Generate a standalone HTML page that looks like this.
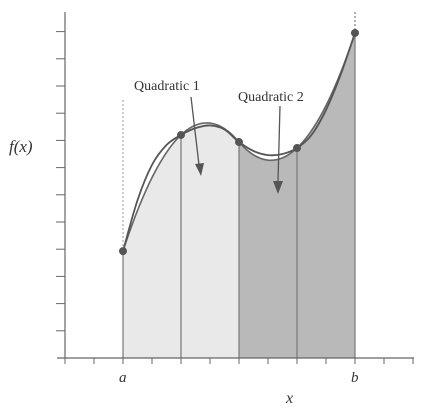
<!DOCTYPE html>
<html><head><meta charset="utf-8"><style>
body{margin:0;background:#fff}
svg text{font-family:"Liberation Serif",serif;fill:#333}
</style></head><body>
<svg id="chart" width="431" height="411" viewBox="0 0 431 411" xmlns="http://www.w3.org/2000/svg">
<g id="fills"></g>
<g id="grid"></g>
<g id="axes"></g>
<g id="curves"></g>
<g id="pts"></g>
<text x="134" y="90" font-size="14">Quadratic 1</text>
<text x="238" y="101" font-size="14">Quadratic 2</text>
<line x1="191" y1="97" x2="199" y2="165" stroke="#555" stroke-width="1.3"/>
<path d="M195,164 L204,163 L201,176 Z" fill="#555"/>
<line x1="280" y1="106" x2="278" y2="182" stroke="#555" stroke-width="1.3"/>
<path d="M273,181 L283,181 L278,194 Z" fill="#555"/>
<text x="9" y="152" font-size="17" font-style="italic">f(x)</text>
<text x="119" y="382" font-size="15" font-style="italic">a</text>
<text x="351" y="382" font-size="15" font-style="italic">b</text>
<text x="286" y="403" font-size="16" font-style="italic">x</text>
</svg>
<script>
// data (x in node units 0..4, y in value units)
const nodeX = [0, 1, 2, 3, 4];
const nodeY = [3.93, 8.2, 7.94, 7.72, 11.95];
const trueX = [0, 0.25, 0.5, 0.75, 1, 1.25, 1.5, 1.75, 2, 2.25, 2.5, 2.75, 3, 3.25, 3.5, 3.75, 4];
const trueY = [3.93, 5.8, 7.1, 7.83, 8.2, 8.45, 8.55, 8.4, 7.94, 7.61, 7.46, 7.5, 7.72, 8.2, 9.12, 10.4, 11.95];
const yTicks = [1,2,3,4,5,6,7,8,9,10,11,12];
const xTicks = [-1,-0.5,0,0.5,1,1.5,2,2.5,3,3.5,4,4.5,5];

const sx = v => 123 + 58 * v;
const sy = v => 358 - 27.2 * v;
const NS = "http://www.w3.org/2000/svg";
function mk(tag, parent, attrs){const e=document.createElementNS(NS,tag);for(const k in attrs)e.setAttribute(k,attrs[k]);document.getElementById(parent).appendChild(e);return e;}

function quad(i0){
  const [x0,x1,x2]=[nodeX[i0],nodeX[i0+1],nodeX[i0+2]],[y0,y1,y2]=[nodeY[i0],nodeY[i0+1],nodeY[i0+2]];
  return x=>y0*(x-x1)*(x-x2)/((x0-x1)*(x0-x2))+y1*(x-x0)*(x-x2)/((x1-x0)*(x1-x2))+y2*(x-x0)*(x-x1)/((x2-x0)*(x2-x1));
}
const q1=quad(0), q2=quad(2);
function qPath(f,a,b){let d="";for(let k=0;k<=40;k++){const x=a+(b-a)*k/40;d+=(k?"L":"M")+sx(x).toFixed(1)+","+sy(f(x)).toFixed(1);}return d;}
function smooth(xs,ys){
  const P=xs.map((x,i)=>[sx(x),sy(ys[i])]);let d="M"+P[0][0]+","+P[0][1];
  for(let i=0;i<P.length-1;i++){const p0=P[Math.max(0,i-1)],p1=P[i],p2=P[i+1],p3=P[Math.min(P.length-1,i+2)];
    d+=` C${p1[0]+(p2[0]-p0[0])/6},${p1[1]+(p2[1]-p0[1])/6} ${p2[0]-(p3[0]-p1[0])/6},${p2[1]-(p3[1]-p1[1])/6} ${p2[0]},${p2[1]}`;}
  return d;
}
let f1=mk("path","fills",{d:qPath(q1,0,2)+`L${sx(2)},${sy(0)}L${sx(0)},${sy(0)}Z`,fill:"#e9e9e9"});


let f2=mk("path","fills",{d:qPath(q2,2,4)+`L${sx(4)},${sy(0)}L${sx(2)},${sy(0)}Z`,fill:"#b9b9b9"});


nodeX.forEach((x,i)=>{const l=mk("line","grid",{x1:sx(x),x2:sx(x),y1:sy(nodeY[i]),y2:sy(0),stroke:"#777","stroke-width":1.2});
  
  });
let da=mk("line","grid",{x1:sx(0),x2:sx(0),y1:100,y2:sy(nodeY[0]),stroke:"#999","stroke-dasharray":"2,2"});


let db=mk("line","grid",{x1:sx(4),x2:sx(4),y1:12,y2:sy(nodeY[4]),stroke:"#666","stroke-dasharray":"2,2"});


let ya=mk("line","axes",{x1:65,x2:65,y1:12,y2:358,stroke:"#666","stroke-width":1.2});


let xa=mk("line","axes",{x1:57,x2:414,y1:358,y2:358,stroke:"#666","stroke-width":1.2});


yTicks.forEach(v=>{const t=mk("line","axes",{x1:56,x2:65,y1:sy(v),y2:sy(v),stroke:"#666"});
  
  });
xTicks.forEach(v=>{const t=mk("line","axes",{x1:sx(v),x2:sx(v),y1:358,y2:364,stroke:"#666"});
  
  });
let c1=mk("path","curves",{d:qPath(q1,0,2),fill:"none",stroke:"#666","stroke-width":1.6});


let c2=mk("path","curves",{d:qPath(q2,2,4),fill:"none",stroke:"#666","stroke-width":1.6});


let ft=mk("path","curves",{d:smooth(trueX,trueY),fill:"none",stroke:"#555","stroke-width":1.8});


nodeX.forEach((x,i)=>{const c=mk("circle","pts",{cx:sx(x),cy:sy(nodeY[i]),r:4,fill:"#555"});
  
  });
</script>
</body></html>
